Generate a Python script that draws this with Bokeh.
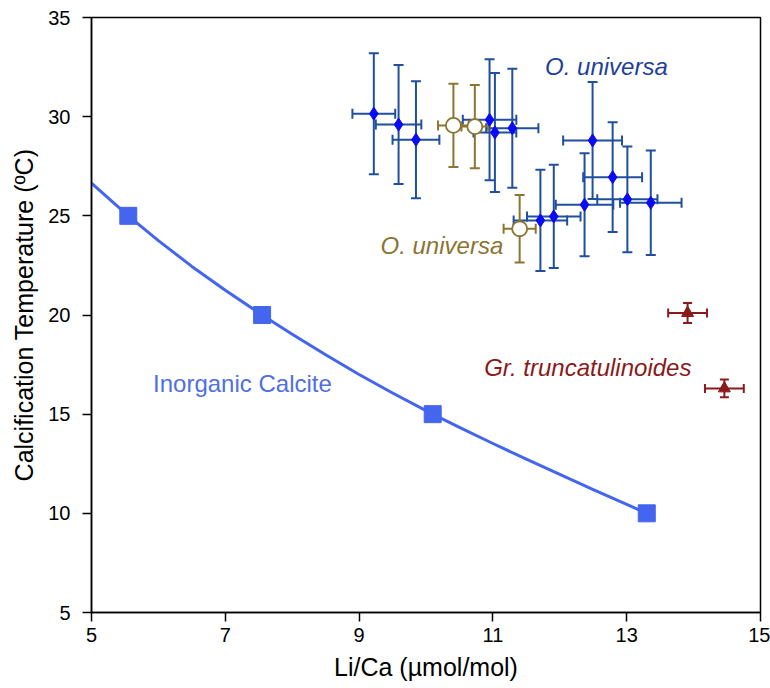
from bokeh.plotting import figure
from bokeh.models import ColumnDataSource, Whisker, TeeHead, FixedTicker
from bokeh.core.properties import value
from bokeh.embed import file_html
from bokeh.resources import INLINE

# ---- data ----
# O. universa (culture, blue diamonds)
ou_li = [9.22, 9.59, 9.85, 10.95, 11.03, 11.29, 12.49, 12.79, 13.01, 13.36, 12.37, 11.91, 11.71]
ou_t = [30.15, 29.6, 28.84, 29.84, 29.2, 29.42, 28.8, 26.95, 25.83, 25.66, 25.56, 24.97, 24.77]
ou_li_err = [0.32, 0.34, 0.35, 0.40, 0.32, 0.39, 0.44, 0.44, 0.45, 0.46, 0.43, 0.40, 0.40]
ou_t_err = [3.05, 3.0, 2.95, 3.05, 3.0, 3.0, 2.95, 2.77, 2.67, 2.63, 2.6, 2.6, 2.55]

# O. universa (open circles, gold)
cu_li = [10.41, 10.73, 11.40]
cu_t = [29.56, 29.5, 24.35]
cu_li_err = [0.23, 0.20, 0.24]
cu_t_err = [2.1, 2.1, 1.7]

# Gr. truncatulinoides (dark red triangles)
gt_li = [13.91, 14.46]
gt_t = [20.1, 16.3]
gt_li_err = [0.29, 0.29]
gt_t_err = [0.5, 0.45]

# Inorganic calcite (squares) and its fitted curve
ic_li = [5.55, 7.55, 10.1, 13.3]
ic_t = [25.0, 20.0, 15.0, 10.0]
fit_li = [5.0, 5.55, 6.0, 6.5, 7.0, 7.55, 8.0, 8.5, 9.0, 9.5, 10.1,
          10.5, 11.0, 11.5, 12.0, 12.5, 13.0, 13.3]
fit_t = [26.65, 25.0, 23.75, 22.45, 21.25, 20.0, 19.03, 18.0, 17.0, 16.07, 15.0,
         14.33, 13.52, 12.73, 11.96, 11.2, 10.45, 10.0]

x_ticks = [5, 7, 9, 11, 13, 15]
y_ticks = [5, 10, 15, 20, 25, 30, 35]

FONT = "Liberation Sans"
BLUE_BAR = "#1f4f9e"
BLUE_PT = "#0a0af5"
GOLD = "#8c7432"
DRED = "#8a1a1a"
CALC = "#4466ee"

p = figure(width=770, height=688, x_range=(5, 15), y_range=(5, 35),
           output_backend="svg", toolbar_location=None)
p.min_border_left = 91
p.min_border_right = 10
p.min_border_top = 17
p.min_border_bottom = 76
p.grid.visible = False
p.outline_line_color = "black"
p.outline_line_width = 1.5
p.background_fill_color = "white"
p.border_fill_color = "white"

for ax in (p.xaxis[0], p.yaxis[0]):
    ax.axis_line_width = 1.5
    ax.major_tick_line_width = 1.5
    ax.major_tick_out = 9
    ax.major_tick_in = 0
    ax.minor_tick_out = 0
    ax.minor_tick_in = 0
    ax.major_label_text_font = FONT
    ax.major_label_text_font_size = "20px"
    ax.major_label_text_color = "black"
    ax.axis_label_text_font = FONT
    ax.axis_label_text_font_size = "25px"
    ax.axis_label_text_font_style = "normal"
    ax.axis_label_text_color = "black"

p.xaxis.ticker = FixedTicker(ticks=x_ticks)
p.yaxis.ticker = FixedTicker(ticks=y_ticks)
p.xaxis.axis_label = "Li/Ca (µmol/mol)"
p.yaxis.axis_label = "Calcification Temperature (ºC)"
p.xaxis.major_label_standoff = 6
p.yaxis.major_label_standoff = 12
p.xaxis.axis_label_standoff = 8
p.yaxis.axis_label_standoff = 7


def add_errors(xs, ys, xe, ye, color, width=2, size=9):
    src = ColumnDataSource(dict(
        x=xs, y=ys,
        xl=[a - b for a, b in zip(xs, xe)], xu=[a + b for a, b in zip(xs, xe)],
        yl=[a - b for a, b in zip(ys, ye)], yu=[a + b for a, b in zip(ys, ye)],
    ))
    wv = Whisker(source=src, base="x", lower="yl", upper="yu", dimension="height",
                 line_color=color, line_width=width,
                 lower_head=TeeHead(size=size, line_color=color, line_width=width),
                 upper_head=TeeHead(size=size, line_color=color, line_width=width))
    wh = Whisker(source=src, base="y", lower="xl", upper="xu", dimension="width",
                 line_color=color, line_width=width,
                 lower_head=TeeHead(size=size, line_color=color, line_width=width),
                 upper_head=TeeHead(size=size, line_color=color, line_width=width))
    p.add_layout(wv)
    p.add_layout(wh)
    return src


# inorganic calcite
p.line(fit_li, fit_t, line_color=CALC, line_width=3, line_join="round")
p.scatter(ic_li, ic_t, marker="square", size=17, fill_color=CALC, line_color=CALC)

# O. universa blue
src_ou = add_errors(ou_li, ou_t, ou_li_err, ou_t_err, BLUE_BAR, width=2, size=10)
p.scatter("x", "y", source=src_ou, marker="diamond", size=13,
          fill_color=BLUE_PT, line_color=BLUE_PT)

# O. universa gold open circles
src_cu = add_errors(cu_li, cu_t, cu_li_err, cu_t_err, GOLD, width=2, size=10)
p.scatter("x", "y", source=src_cu, marker="circle", size=15,
          fill_color="white", line_color=GOLD, line_width=1.8)

# Gr. truncatulinoides
src_gt = add_errors(gt_li, gt_t, gt_li_err, gt_t_err, DRED, width=2, size=9)
p.scatter("x", "y", source=src_gt, marker="triangle", size=12,
          fill_color=DRED, line_color=DRED)

# labels
p.text(x=[11.78], y=[32.55], text=["O. universa"], text_font=value(FONT),
       text_font_style="italic", text_font_size="24px", text_color="#1f3f9a",
       text_align="left", text_baseline="middle")
p.text(x=[9.32], y=[23.5], text=["O. universa"], text_font=value(FONT),
       text_font_style="italic", text_font_size="24px", text_color=GOLD,
       text_align="left", text_baseline="middle")
p.text(x=[10.87], y=[17.35], text=["Gr. truncatulinoides"], text_font=value(FONT),
       text_font_style="italic", text_font_size="24px", text_color=DRED,
       text_align="left", text_baseline="middle")
p.text(x=[5.92], y=[16.55], text=["Inorganic Calcite"], text_font=value(FONT),
       text_font_style="normal", text_font_size="24px", text_color="#4f6fe3",
       text_align="left", text_baseline="middle")

open("out.html", "w").write(file_html(p, INLINE))
